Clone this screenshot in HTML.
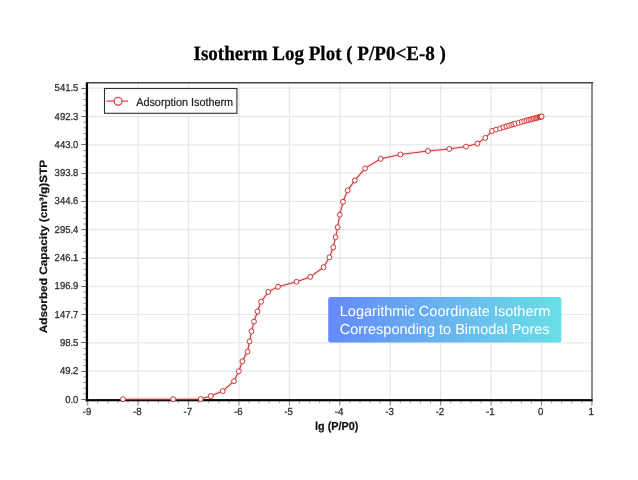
<!DOCTYPE html>
<html><head><meta charset="utf-8"><title>Isotherm Log Plot</title>
<style>html,body{margin:0;padding:0;background:#fff;}body{width:638px;height:480px;overflow:hidden;font-family:"Liberation Sans",sans-serif;}svg{display:block;}text{text-rendering:geometricPrecision;}#w{will-change:transform;opacity:0.999;}</style>
</head><body><div id="w">
<svg width="638" height="480" viewBox="0 0 638 480">
<defs><linearGradient id="g" x1="0" y1="0" x2="1" y2="0"><stop offset="0" stop-color="#658af9"/><stop offset="1" stop-color="#6adfe6"/></linearGradient></defs>
<rect width="638" height="480" fill="#fff"/>
<line x1="138.12" y1="83" x2="138.12" y2="399" stroke="#e9e9e9" stroke-width="1.3"/>
<line x1="188.54" y1="83" x2="188.54" y2="399" stroke="#e9e9e9" stroke-width="1.3"/>
<line x1="238.96" y1="83" x2="238.96" y2="399" stroke="#e9e9e9" stroke-width="1.3"/>
<line x1="289.38" y1="83" x2="289.38" y2="399" stroke="#e9e9e9" stroke-width="1.3"/>
<line x1="339.80" y1="83" x2="339.80" y2="399" stroke="#e9e9e9" stroke-width="1.3"/>
<line x1="390.22" y1="83" x2="390.22" y2="399" stroke="#e9e9e9" stroke-width="1.3"/>
<line x1="440.64" y1="83" x2="440.64" y2="399" stroke="#e9e9e9" stroke-width="1.3"/>
<line x1="491.06" y1="83" x2="491.06" y2="399" stroke="#e9e9e9" stroke-width="1.3"/>
<line x1="541.48" y1="83" x2="541.48" y2="399" stroke="#e9e9e9" stroke-width="1.3"/>
<line x1="88" y1="371.20" x2="592" y2="371.20" stroke="#e9e9e9" stroke-width="1.3"/>
<line x1="88" y1="342.90" x2="592" y2="342.90" stroke="#e9e9e9" stroke-width="1.3"/>
<line x1="88" y1="314.60" x2="592" y2="314.60" stroke="#e9e9e9" stroke-width="1.3"/>
<line x1="88" y1="286.30" x2="592" y2="286.30" stroke="#e9e9e9" stroke-width="1.3"/>
<line x1="88" y1="258.00" x2="592" y2="258.00" stroke="#e9e9e9" stroke-width="1.3"/>
<line x1="88" y1="229.70" x2="592" y2="229.70" stroke="#e9e9e9" stroke-width="1.3"/>
<line x1="88" y1="201.40" x2="592" y2="201.40" stroke="#e9e9e9" stroke-width="1.3"/>
<line x1="88" y1="173.10" x2="592" y2="173.10" stroke="#e9e9e9" stroke-width="1.3"/>
<line x1="88" y1="144.80" x2="592" y2="144.80" stroke="#e9e9e9" stroke-width="1.3"/>
<line x1="88" y1="116.50" x2="592" y2="116.50" stroke="#e9e9e9" stroke-width="1.3"/>
<line x1="88" y1="88.20" x2="592" y2="88.20" stroke="#e9e9e9" stroke-width="1.3"/>
<line x1="81.2" y1="399.50" x2="86" y2="399.50" stroke="#6a6a6a" stroke-width="1"/>
<line x1="83.5" y1="393.84" x2="86" y2="393.84" stroke="#888" stroke-width="0.9"/>
<line x1="83.5" y1="388.18" x2="86" y2="388.18" stroke="#888" stroke-width="0.9"/>
<line x1="83.5" y1="382.52" x2="86" y2="382.52" stroke="#888" stroke-width="0.9"/>
<line x1="83.5" y1="376.86" x2="86" y2="376.86" stroke="#888" stroke-width="0.9"/>
<line x1="81.2" y1="371.50" x2="86" y2="371.50" stroke="#6a6a6a" stroke-width="1"/>
<line x1="83.5" y1="365.54" x2="86" y2="365.54" stroke="#888" stroke-width="0.9"/>
<line x1="83.5" y1="359.88" x2="86" y2="359.88" stroke="#888" stroke-width="0.9"/>
<line x1="83.5" y1="354.22" x2="86" y2="354.22" stroke="#888" stroke-width="0.9"/>
<line x1="83.5" y1="348.56" x2="86" y2="348.56" stroke="#888" stroke-width="0.9"/>
<line x1="81.2" y1="342.50" x2="86" y2="342.50" stroke="#6a6a6a" stroke-width="1"/>
<line x1="83.5" y1="337.24" x2="86" y2="337.24" stroke="#888" stroke-width="0.9"/>
<line x1="83.5" y1="331.58" x2="86" y2="331.58" stroke="#888" stroke-width="0.9"/>
<line x1="83.5" y1="325.92" x2="86" y2="325.92" stroke="#888" stroke-width="0.9"/>
<line x1="83.5" y1="320.26" x2="86" y2="320.26" stroke="#888" stroke-width="0.9"/>
<line x1="81.2" y1="314.50" x2="86" y2="314.50" stroke="#6a6a6a" stroke-width="1"/>
<line x1="83.5" y1="308.94" x2="86" y2="308.94" stroke="#888" stroke-width="0.9"/>
<line x1="83.5" y1="303.28" x2="86" y2="303.28" stroke="#888" stroke-width="0.9"/>
<line x1="83.5" y1="297.62" x2="86" y2="297.62" stroke="#888" stroke-width="0.9"/>
<line x1="83.5" y1="291.96" x2="86" y2="291.96" stroke="#888" stroke-width="0.9"/>
<line x1="81.2" y1="286.50" x2="86" y2="286.50" stroke="#6a6a6a" stroke-width="1"/>
<line x1="83.5" y1="280.64" x2="86" y2="280.64" stroke="#888" stroke-width="0.9"/>
<line x1="83.5" y1="274.98" x2="86" y2="274.98" stroke="#888" stroke-width="0.9"/>
<line x1="83.5" y1="269.32" x2="86" y2="269.32" stroke="#888" stroke-width="0.9"/>
<line x1="83.5" y1="263.66" x2="86" y2="263.66" stroke="#888" stroke-width="0.9"/>
<line x1="81.2" y1="258.50" x2="86" y2="258.50" stroke="#6a6a6a" stroke-width="1"/>
<line x1="83.5" y1="252.34" x2="86" y2="252.34" stroke="#888" stroke-width="0.9"/>
<line x1="83.5" y1="246.68" x2="86" y2="246.68" stroke="#888" stroke-width="0.9"/>
<line x1="83.5" y1="241.02" x2="86" y2="241.02" stroke="#888" stroke-width="0.9"/>
<line x1="83.5" y1="235.36" x2="86" y2="235.36" stroke="#888" stroke-width="0.9"/>
<line x1="81.2" y1="229.50" x2="86" y2="229.50" stroke="#6a6a6a" stroke-width="1"/>
<line x1="83.5" y1="224.04" x2="86" y2="224.04" stroke="#888" stroke-width="0.9"/>
<line x1="83.5" y1="218.38" x2="86" y2="218.38" stroke="#888" stroke-width="0.9"/>
<line x1="83.5" y1="212.72" x2="86" y2="212.72" stroke="#888" stroke-width="0.9"/>
<line x1="83.5" y1="207.06" x2="86" y2="207.06" stroke="#888" stroke-width="0.9"/>
<line x1="81.2" y1="201.50" x2="86" y2="201.50" stroke="#6a6a6a" stroke-width="1"/>
<line x1="83.5" y1="195.74" x2="86" y2="195.74" stroke="#888" stroke-width="0.9"/>
<line x1="83.5" y1="190.08" x2="86" y2="190.08" stroke="#888" stroke-width="0.9"/>
<line x1="83.5" y1="184.42" x2="86" y2="184.42" stroke="#888" stroke-width="0.9"/>
<line x1="83.5" y1="178.76" x2="86" y2="178.76" stroke="#888" stroke-width="0.9"/>
<line x1="81.2" y1="173.50" x2="86" y2="173.50" stroke="#6a6a6a" stroke-width="1"/>
<line x1="83.5" y1="167.44" x2="86" y2="167.44" stroke="#888" stroke-width="0.9"/>
<line x1="83.5" y1="161.78" x2="86" y2="161.78" stroke="#888" stroke-width="0.9"/>
<line x1="83.5" y1="156.12" x2="86" y2="156.12" stroke="#888" stroke-width="0.9"/>
<line x1="83.5" y1="150.46" x2="86" y2="150.46" stroke="#888" stroke-width="0.9"/>
<line x1="81.2" y1="144.50" x2="86" y2="144.50" stroke="#6a6a6a" stroke-width="1"/>
<line x1="83.5" y1="139.14" x2="86" y2="139.14" stroke="#888" stroke-width="0.9"/>
<line x1="83.5" y1="133.48" x2="86" y2="133.48" stroke="#888" stroke-width="0.9"/>
<line x1="83.5" y1="127.82" x2="86" y2="127.82" stroke="#888" stroke-width="0.9"/>
<line x1="83.5" y1="122.16" x2="86" y2="122.16" stroke="#888" stroke-width="0.9"/>
<line x1="81.2" y1="116.50" x2="86" y2="116.50" stroke="#6a6a6a" stroke-width="1"/>
<line x1="83.5" y1="110.84" x2="86" y2="110.84" stroke="#888" stroke-width="0.9"/>
<line x1="83.5" y1="105.18" x2="86" y2="105.18" stroke="#888" stroke-width="0.9"/>
<line x1="83.5" y1="99.52" x2="86" y2="99.52" stroke="#888" stroke-width="0.9"/>
<line x1="83.5" y1="93.86" x2="86" y2="93.86" stroke="#888" stroke-width="0.9"/>
<line x1="81.2" y1="88.50" x2="86" y2="88.50" stroke="#6a6a6a" stroke-width="1"/>
<line x1="87.70" y1="401" x2="87.70" y2="405.7" stroke="#888" stroke-width="1.1"/>
<line x1="97.78" y1="401" x2="97.78" y2="403.4" stroke="#aaa" stroke-width="1"/>
<line x1="107.87" y1="401" x2="107.87" y2="403.4" stroke="#aaa" stroke-width="1"/>
<line x1="117.95" y1="401" x2="117.95" y2="403.4" stroke="#aaa" stroke-width="1"/>
<line x1="128.04" y1="401" x2="128.04" y2="403.4" stroke="#aaa" stroke-width="1"/>
<line x1="138.12" y1="401" x2="138.12" y2="405.7" stroke="#888" stroke-width="1.1"/>
<line x1="148.20" y1="401" x2="148.20" y2="403.4" stroke="#aaa" stroke-width="1"/>
<line x1="158.29" y1="401" x2="158.29" y2="403.4" stroke="#aaa" stroke-width="1"/>
<line x1="168.37" y1="401" x2="168.37" y2="403.4" stroke="#aaa" stroke-width="1"/>
<line x1="178.46" y1="401" x2="178.46" y2="403.4" stroke="#aaa" stroke-width="1"/>
<line x1="188.54" y1="401" x2="188.54" y2="405.7" stroke="#888" stroke-width="1.1"/>
<line x1="198.62" y1="401" x2="198.62" y2="403.4" stroke="#aaa" stroke-width="1"/>
<line x1="208.71" y1="401" x2="208.71" y2="403.4" stroke="#aaa" stroke-width="1"/>
<line x1="218.79" y1="401" x2="218.79" y2="403.4" stroke="#aaa" stroke-width="1"/>
<line x1="228.88" y1="401" x2="228.88" y2="403.4" stroke="#aaa" stroke-width="1"/>
<line x1="238.96" y1="401" x2="238.96" y2="405.7" stroke="#888" stroke-width="1.1"/>
<line x1="249.04" y1="401" x2="249.04" y2="403.4" stroke="#aaa" stroke-width="1"/>
<line x1="259.13" y1="401" x2="259.13" y2="403.4" stroke="#aaa" stroke-width="1"/>
<line x1="269.21" y1="401" x2="269.21" y2="403.4" stroke="#aaa" stroke-width="1"/>
<line x1="279.30" y1="401" x2="279.30" y2="403.4" stroke="#aaa" stroke-width="1"/>
<line x1="289.38" y1="401" x2="289.38" y2="405.7" stroke="#888" stroke-width="1.1"/>
<line x1="299.46" y1="401" x2="299.46" y2="403.4" stroke="#aaa" stroke-width="1"/>
<line x1="309.55" y1="401" x2="309.55" y2="403.4" stroke="#aaa" stroke-width="1"/>
<line x1="319.63" y1="401" x2="319.63" y2="403.4" stroke="#aaa" stroke-width="1"/>
<line x1="329.72" y1="401" x2="329.72" y2="403.4" stroke="#aaa" stroke-width="1"/>
<line x1="339.80" y1="401" x2="339.80" y2="405.7" stroke="#888" stroke-width="1.1"/>
<line x1="349.88" y1="401" x2="349.88" y2="403.4" stroke="#aaa" stroke-width="1"/>
<line x1="359.97" y1="401" x2="359.97" y2="403.4" stroke="#aaa" stroke-width="1"/>
<line x1="370.05" y1="401" x2="370.05" y2="403.4" stroke="#aaa" stroke-width="1"/>
<line x1="380.14" y1="401" x2="380.14" y2="403.4" stroke="#aaa" stroke-width="1"/>
<line x1="390.22" y1="401" x2="390.22" y2="405.7" stroke="#888" stroke-width="1.1"/>
<line x1="400.30" y1="401" x2="400.30" y2="403.4" stroke="#aaa" stroke-width="1"/>
<line x1="410.39" y1="401" x2="410.39" y2="403.4" stroke="#aaa" stroke-width="1"/>
<line x1="420.47" y1="401" x2="420.47" y2="403.4" stroke="#aaa" stroke-width="1"/>
<line x1="430.56" y1="401" x2="430.56" y2="403.4" stroke="#aaa" stroke-width="1"/>
<line x1="440.64" y1="401" x2="440.64" y2="405.7" stroke="#888" stroke-width="1.1"/>
<line x1="450.72" y1="401" x2="450.72" y2="403.4" stroke="#aaa" stroke-width="1"/>
<line x1="460.81" y1="401" x2="460.81" y2="403.4" stroke="#aaa" stroke-width="1"/>
<line x1="470.89" y1="401" x2="470.89" y2="403.4" stroke="#aaa" stroke-width="1"/>
<line x1="480.98" y1="401" x2="480.98" y2="403.4" stroke="#aaa" stroke-width="1"/>
<line x1="491.06" y1="401" x2="491.06" y2="405.7" stroke="#888" stroke-width="1.1"/>
<line x1="501.14" y1="401" x2="501.14" y2="403.4" stroke="#aaa" stroke-width="1"/>
<line x1="511.23" y1="401" x2="511.23" y2="403.4" stroke="#aaa" stroke-width="1"/>
<line x1="521.31" y1="401" x2="521.31" y2="403.4" stroke="#aaa" stroke-width="1"/>
<line x1="531.40" y1="401" x2="531.40" y2="403.4" stroke="#aaa" stroke-width="1"/>
<line x1="541.48" y1="401" x2="541.48" y2="405.7" stroke="#888" stroke-width="1.1"/>
<line x1="551.56" y1="401" x2="551.56" y2="403.4" stroke="#aaa" stroke-width="1"/>
<line x1="561.65" y1="401" x2="561.65" y2="403.4" stroke="#aaa" stroke-width="1"/>
<line x1="571.73" y1="401" x2="571.73" y2="403.4" stroke="#aaa" stroke-width="1"/>
<line x1="581.82" y1="401" x2="581.82" y2="403.4" stroke="#aaa" stroke-width="1"/>
<line x1="591.90" y1="401" x2="591.90" y2="405.7" stroke="#888" stroke-width="1.1"/>
<line x1="86.6" y1="82.7" x2="592.6" y2="82.7" stroke="#444" stroke-width="1.6" stroke-linecap="round"/>
<line x1="592" y1="83" x2="592" y2="401" stroke="#666" stroke-width="1.5"/>
<rect x="85.8" y="82.9" width="2.25" height="318.4" fill="#000"/>
<rect x="85.7" y="399.1" width="506.8" height="2.2" fill="#000"/>
<path d="M123.00,399.15 L173.20,399.15 L200.70,399.00 L210.80,396.10 L222.70,391.10 L234.00,381.10 L238.80,371.30 L242.40,361.30 L247.50,351.60 L249.60,341.40 L251.50,331.30 L254.00,321.60 L257.50,311.50 L261.10,301.70 L268.30,291.90 L278.00,286.80 L296.50,281.80 L310.20,276.90 L323.60,267.20 L329.40,257.30 L333.30,247.30 L335.60,237.20 L337.60,227.30 L339.80,214.70 L343.00,201.80 L347.60,190.40 L354.80,180.40 L365.10,168.40 L380.70,158.80 L400.40,154.50 L427.90,151.00 L449.30,148.90 L466.00,146.60 L477.40,143.60 L485.30,137.90 L492.00,131.00 L496.07,129.68 L500.06,128.39 L503.43,127.32 L506.36,126.40 L508.94,125.60 L511.24,124.90 L513.33,124.27 L515.24,123.71 L518.61,122.73 L521.54,121.90 L524.11,121.18 L526.42,120.56 L528.51,120.00 L530.41,119.49 L532.17,119.03 L533.79,118.61 L535.30,118.22 L536.71,117.85 L538.04,117.51 L539.29,117.19 L539.89,117.04 L540.48,116.89 L541.05,116.74 L541.38,116.66 L541.60,116.60" fill="none" stroke="#e85050" stroke-opacity="0.13" stroke-width="3.6" stroke-linejoin="round"/>
<path d="M123.00,399.15 L173.20,399.15 L200.70,399.00 L210.80,396.10 L222.70,391.10 L234.00,381.10 L238.80,371.30 L242.40,361.30 L247.50,351.60 L249.60,341.40 L251.50,331.30 L254.00,321.60 L257.50,311.50 L261.10,301.70 L268.30,291.90 L278.00,286.80 L296.50,281.80 L310.20,276.90 L323.60,267.20 L329.40,257.30 L333.30,247.30 L335.60,237.20 L337.60,227.30 L339.80,214.70 L343.00,201.80 L347.60,190.40 L354.80,180.40 L365.10,168.40 L380.70,158.80 L400.40,154.50 L427.90,151.00 L449.30,148.90 L466.00,146.60 L477.40,143.60 L485.30,137.90 L492.00,131.00 L496.07,129.68 L500.06,128.39 L503.43,127.32 L506.36,126.40 L508.94,125.60 L511.24,124.90 L513.33,124.27 L515.24,123.71 L518.61,122.73 L521.54,121.90 L524.11,121.18 L526.42,120.56 L528.51,120.00 L530.41,119.49 L532.17,119.03 L533.79,118.61 L535.30,118.22 L536.71,117.85 L538.04,117.51 L539.29,117.19 L539.89,117.04 L540.48,116.89 L541.05,116.74 L541.38,116.66 L541.60,116.60" fill="none" stroke="#c93636" stroke-width="1.05" stroke-linejoin="round"/>
<ellipse cx="123.00" cy="399.15" rx="2.4" ry="2.5" fill="#fff" stroke="#c93636" stroke-width="1.0"/>
<ellipse cx="173.20" cy="399.15" rx="2.4" ry="2.5" fill="#fff" stroke="#c93636" stroke-width="1.0"/>
<ellipse cx="200.70" cy="399.00" rx="2.4" ry="2.5" fill="#fff" stroke="#c93636" stroke-width="1.0"/>
<ellipse cx="210.80" cy="396.10" rx="2.4" ry="2.5" fill="#fff" stroke="#c93636" stroke-width="1.0"/>
<ellipse cx="222.70" cy="391.10" rx="2.4" ry="2.5" fill="#fff" stroke="#c93636" stroke-width="1.0"/>
<ellipse cx="234.00" cy="381.10" rx="2.4" ry="2.5" fill="#fff" stroke="#c93636" stroke-width="1.0"/>
<ellipse cx="238.80" cy="371.30" rx="2.4" ry="2.5" fill="#fff" stroke="#c93636" stroke-width="1.0"/>
<ellipse cx="242.40" cy="361.30" rx="2.4" ry="2.5" fill="#fff" stroke="#c93636" stroke-width="1.0"/>
<ellipse cx="247.50" cy="351.60" rx="2.4" ry="2.5" fill="#fff" stroke="#c93636" stroke-width="1.0"/>
<ellipse cx="249.60" cy="341.40" rx="2.4" ry="2.5" fill="#fff" stroke="#c93636" stroke-width="1.0"/>
<ellipse cx="251.50" cy="331.30" rx="2.4" ry="2.5" fill="#fff" stroke="#c93636" stroke-width="1.0"/>
<ellipse cx="254.00" cy="321.60" rx="2.4" ry="2.5" fill="#fff" stroke="#c93636" stroke-width="1.0"/>
<ellipse cx="257.50" cy="311.50" rx="2.4" ry="2.5" fill="#fff" stroke="#c93636" stroke-width="1.0"/>
<ellipse cx="261.10" cy="301.70" rx="2.4" ry="2.5" fill="#fff" stroke="#c93636" stroke-width="1.0"/>
<ellipse cx="268.30" cy="291.90" rx="2.4" ry="2.5" fill="#fff" stroke="#c93636" stroke-width="1.0"/>
<ellipse cx="278.00" cy="286.80" rx="2.4" ry="2.5" fill="#fff" stroke="#c93636" stroke-width="1.0"/>
<ellipse cx="296.50" cy="281.80" rx="2.4" ry="2.5" fill="#fff" stroke="#c93636" stroke-width="1.0"/>
<ellipse cx="310.20" cy="276.90" rx="2.4" ry="2.5" fill="#fff" stroke="#c93636" stroke-width="1.0"/>
<ellipse cx="323.60" cy="267.20" rx="2.4" ry="2.5" fill="#fff" stroke="#c93636" stroke-width="1.0"/>
<ellipse cx="329.40" cy="257.30" rx="2.4" ry="2.5" fill="#fff" stroke="#c93636" stroke-width="1.0"/>
<ellipse cx="333.30" cy="247.30" rx="2.4" ry="2.5" fill="#fff" stroke="#c93636" stroke-width="1.0"/>
<ellipse cx="335.60" cy="237.20" rx="2.4" ry="2.5" fill="#fff" stroke="#c93636" stroke-width="1.0"/>
<ellipse cx="337.60" cy="227.30" rx="2.4" ry="2.5" fill="#fff" stroke="#c93636" stroke-width="1.0"/>
<ellipse cx="339.80" cy="214.70" rx="2.4" ry="2.5" fill="#fff" stroke="#c93636" stroke-width="1.0"/>
<ellipse cx="343.00" cy="201.80" rx="2.4" ry="2.5" fill="#fff" stroke="#c93636" stroke-width="1.0"/>
<ellipse cx="347.60" cy="190.40" rx="2.4" ry="2.5" fill="#fff" stroke="#c93636" stroke-width="1.0"/>
<ellipse cx="354.80" cy="180.40" rx="2.4" ry="2.5" fill="#fff" stroke="#c93636" stroke-width="1.0"/>
<ellipse cx="365.10" cy="168.40" rx="2.4" ry="2.5" fill="#fff" stroke="#c93636" stroke-width="1.0"/>
<ellipse cx="380.70" cy="158.80" rx="2.4" ry="2.5" fill="#fff" stroke="#c93636" stroke-width="1.0"/>
<ellipse cx="400.40" cy="154.50" rx="2.4" ry="2.5" fill="#fff" stroke="#c93636" stroke-width="1.0"/>
<ellipse cx="427.90" cy="151.00" rx="2.4" ry="2.5" fill="#fff" stroke="#c93636" stroke-width="1.0"/>
<ellipse cx="449.30" cy="148.90" rx="2.4" ry="2.5" fill="#fff" stroke="#c93636" stroke-width="1.0"/>
<ellipse cx="466.00" cy="146.60" rx="2.4" ry="2.5" fill="#fff" stroke="#c93636" stroke-width="1.0"/>
<ellipse cx="477.40" cy="143.60" rx="2.4" ry="2.5" fill="#fff" stroke="#c93636" stroke-width="1.0"/>
<ellipse cx="485.30" cy="137.90" rx="2.4" ry="2.5" fill="#fff" stroke="#c93636" stroke-width="1.0"/>
<ellipse cx="492.00" cy="131.00" rx="2.4" ry="2.5" fill="#fff" stroke="#c93636" stroke-width="1.0"/>
<ellipse cx="496.07" cy="129.68" rx="2.4" ry="2.5" fill="#fff" stroke="#c93636" stroke-width="1.0"/>
<ellipse cx="500.06" cy="128.39" rx="2.4" ry="2.5" fill="#fff" stroke="#dc3232" stroke-width="1.0"/>
<ellipse cx="503.43" cy="127.32" rx="2.4" ry="2.5" fill="#fff" stroke="#dc3232" stroke-width="1.0"/>
<ellipse cx="506.36" cy="126.40" rx="2.4" ry="2.5" fill="#fff" stroke="#dc3232" stroke-width="1.0"/>
<ellipse cx="508.94" cy="125.60" rx="2.4" ry="2.5" fill="#fff" stroke="#dc3232" stroke-width="1.0"/>
<ellipse cx="511.24" cy="124.90" rx="2.4" ry="2.5" fill="#fff" stroke="#dc3232" stroke-width="1.0"/>
<ellipse cx="513.33" cy="124.27" rx="2.4" ry="2.5" fill="#fff" stroke="#dc3232" stroke-width="1.0"/>
<ellipse cx="515.24" cy="123.71" rx="2.4" ry="2.5" fill="#fff" stroke="#dc3232" stroke-width="1.0"/>
<ellipse cx="518.61" cy="122.73" rx="2.4" ry="2.5" fill="#fff" stroke="#dc3232" stroke-width="1.0"/>
<ellipse cx="521.54" cy="121.90" rx="2.4" ry="2.5" fill="#fff" stroke="#dc3232" stroke-width="1.0"/>
<ellipse cx="524.11" cy="121.18" rx="2.4" ry="2.5" fill="#fff" stroke="#dc3232" stroke-width="1.0"/>
<ellipse cx="526.42" cy="120.56" rx="2.4" ry="2.5" fill="#fff" stroke="#dc3232" stroke-width="1.0"/>
<ellipse cx="528.51" cy="120.00" rx="2.4" ry="2.5" fill="#fff" stroke="#dc3232" stroke-width="1.0"/>
<ellipse cx="530.41" cy="119.49" rx="2.4" ry="2.5" fill="#fff" stroke="#dc3232" stroke-width="1.0"/>
<ellipse cx="532.17" cy="119.03" rx="2.4" ry="2.5" fill="#fff" stroke="#dc3232" stroke-width="1.0"/>
<ellipse cx="533.79" cy="118.61" rx="2.4" ry="2.5" fill="#fff" stroke="#dc3232" stroke-width="1.0"/>
<ellipse cx="535.30" cy="118.22" rx="2.4" ry="2.5" fill="#fff" stroke="#dc3232" stroke-width="1.0"/>
<ellipse cx="536.71" cy="117.85" rx="2.4" ry="2.5" fill="#fff" stroke="#dc3232" stroke-width="1.0"/>
<ellipse cx="538.04" cy="117.51" rx="2.4" ry="2.5" fill="#fff" stroke="#dc3232" stroke-width="1.0"/>
<ellipse cx="539.29" cy="117.19" rx="2.4" ry="2.5" fill="#fff" stroke="#dc3232" stroke-width="1.0"/>
<ellipse cx="539.89" cy="117.04" rx="2.4" ry="2.5" fill="#fff" stroke="#dc3232" stroke-width="1.0"/>
<ellipse cx="540.48" cy="116.89" rx="2.4" ry="2.5" fill="#fff" stroke="#dc3232" stroke-width="1.0"/>
<ellipse cx="541.05" cy="116.74" rx="2.4" ry="2.5" fill="#fff" stroke="#dc3232" stroke-width="1.0"/>
<ellipse cx="541.38" cy="116.66" rx="2.4" ry="2.5" fill="#fff" stroke="#dc3232" stroke-width="1.0"/>
<ellipse cx="541.60" cy="116.60" rx="2.4" ry="2.5" fill="#fff" stroke="#dc3232" stroke-width="1.0"/>
<rect x="104.5" y="88.5" width="132.4" height="24.8" fill="#fff" stroke="#2f2f2f" stroke-width="1.1"/>
<line x1="106.2" y1="101.1" x2="128" y2="101.1" stroke="#dc444e" stroke-width="1.25"/>
<circle cx="118.1" cy="101.3" r="3.95" fill="#fff" stroke="#dc444e" stroke-width="1.3"/>
<text transform="translate(136.2,105.7) scale(1,1.07)" font-family="'Liberation Sans', sans-serif" font-size="10.84" font-weight="normal" text-anchor="start" fill="#222" stroke="#222" stroke-width="0.2">Adsorption Isotherm</text>
<text transform="translate(78.4,402.5) scale(1,1.06)" font-family="'Liberation Sans', sans-serif" font-size="9.5" font-weight="normal" text-anchor="end" fill="#2e2e2e" stroke="#2e2e2e" stroke-width="0.25">0.0</text>
<text transform="translate(78.4,374.2) scale(1,1.06)" font-family="'Liberation Sans', sans-serif" font-size="9.5" font-weight="normal" text-anchor="end" fill="#2e2e2e" stroke="#2e2e2e" stroke-width="0.25">49.2</text>
<text transform="translate(78.4,345.9) scale(1,1.06)" font-family="'Liberation Sans', sans-serif" font-size="9.5" font-weight="normal" text-anchor="end" fill="#2e2e2e" stroke="#2e2e2e" stroke-width="0.25">98.5</text>
<text transform="translate(78.4,317.6) scale(1,1.06)" font-family="'Liberation Sans', sans-serif" font-size="9.5" font-weight="normal" text-anchor="end" fill="#2e2e2e" stroke="#2e2e2e" stroke-width="0.25">147.7</text>
<text transform="translate(78.4,289.3) scale(1,1.06)" font-family="'Liberation Sans', sans-serif" font-size="9.5" font-weight="normal" text-anchor="end" fill="#2e2e2e" stroke="#2e2e2e" stroke-width="0.25">196.9</text>
<text transform="translate(78.4,261.0) scale(1,1.06)" font-family="'Liberation Sans', sans-serif" font-size="9.5" font-weight="normal" text-anchor="end" fill="#2e2e2e" stroke="#2e2e2e" stroke-width="0.25">246.1</text>
<text transform="translate(78.4,232.7) scale(1,1.06)" font-family="'Liberation Sans', sans-serif" font-size="9.5" font-weight="normal" text-anchor="end" fill="#2e2e2e" stroke="#2e2e2e" stroke-width="0.25">295.4</text>
<text transform="translate(78.4,204.4) scale(1,1.06)" font-family="'Liberation Sans', sans-serif" font-size="9.5" font-weight="normal" text-anchor="end" fill="#2e2e2e" stroke="#2e2e2e" stroke-width="0.25">344.6</text>
<text transform="translate(78.4,176.1) scale(1,1.06)" font-family="'Liberation Sans', sans-serif" font-size="9.5" font-weight="normal" text-anchor="end" fill="#2e2e2e" stroke="#2e2e2e" stroke-width="0.25">393.8</text>
<text transform="translate(78.4,147.79999999999998) scale(1,1.06)" font-family="'Liberation Sans', sans-serif" font-size="9.5" font-weight="normal" text-anchor="end" fill="#2e2e2e" stroke="#2e2e2e" stroke-width="0.25">443.0</text>
<text transform="translate(78.4,119.5) scale(1,1.06)" font-family="'Liberation Sans', sans-serif" font-size="9.5" font-weight="normal" text-anchor="end" fill="#2e2e2e" stroke="#2e2e2e" stroke-width="0.25">492.3</text>
<text transform="translate(78.4,91.19999999999999) scale(1,1.06)" font-family="'Liberation Sans', sans-serif" font-size="9.5" font-weight="normal" text-anchor="end" fill="#2e2e2e" stroke="#2e2e2e" stroke-width="0.25">541.5</text>
<text transform="translate(87.0,415.1) scale(1,1.06)" font-family="'Liberation Sans', sans-serif" font-size="9.7" font-weight="normal" text-anchor="middle" fill="#2e2e2e" stroke="#2e2e2e" stroke-width="0.25">-9</text>
<text transform="translate(137.42000000000002,415.1) scale(1,1.06)" font-family="'Liberation Sans', sans-serif" font-size="9.7" font-weight="normal" text-anchor="middle" fill="#2e2e2e" stroke="#2e2e2e" stroke-width="0.25">-8</text>
<text transform="translate(187.84000000000003,415.1) scale(1,1.06)" font-family="'Liberation Sans', sans-serif" font-size="9.7" font-weight="normal" text-anchor="middle" fill="#2e2e2e" stroke="#2e2e2e" stroke-width="0.25">-7</text>
<text transform="translate(238.26,415.1) scale(1,1.06)" font-family="'Liberation Sans', sans-serif" font-size="9.7" font-weight="normal" text-anchor="middle" fill="#2e2e2e" stroke="#2e2e2e" stroke-width="0.25">-6</text>
<text transform="translate(288.68,415.1) scale(1,1.06)" font-family="'Liberation Sans', sans-serif" font-size="9.7" font-weight="normal" text-anchor="middle" fill="#2e2e2e" stroke="#2e2e2e" stroke-width="0.25">-5</text>
<text transform="translate(339.1,415.1) scale(1,1.06)" font-family="'Liberation Sans', sans-serif" font-size="9.7" font-weight="normal" text-anchor="middle" fill="#2e2e2e" stroke="#2e2e2e" stroke-width="0.25">-4</text>
<text transform="translate(389.52,415.1) scale(1,1.06)" font-family="'Liberation Sans', sans-serif" font-size="9.7" font-weight="normal" text-anchor="middle" fill="#2e2e2e" stroke="#2e2e2e" stroke-width="0.25">-3</text>
<text transform="translate(439.94,415.1) scale(1,1.06)" font-family="'Liberation Sans', sans-serif" font-size="9.7" font-weight="normal" text-anchor="middle" fill="#2e2e2e" stroke="#2e2e2e" stroke-width="0.25">-2</text>
<text transform="translate(490.36,415.1) scale(1,1.06)" font-family="'Liberation Sans', sans-serif" font-size="9.7" font-weight="normal" text-anchor="middle" fill="#2e2e2e" stroke="#2e2e2e" stroke-width="0.25">-1</text>
<text transform="translate(540.78,415.1) scale(1,1.06)" font-family="'Liberation Sans', sans-serif" font-size="9.7" font-weight="normal" text-anchor="middle" fill="#2e2e2e" stroke="#2e2e2e" stroke-width="0.25">0</text>
<text transform="translate(591.2,415.1) scale(1,1.06)" font-family="'Liberation Sans', sans-serif" font-size="9.7" font-weight="normal" text-anchor="middle" fill="#2e2e2e" stroke="#2e2e2e" stroke-width="0.25">1</text>
<text transform="translate(315.0,430.3) scale(1,1.07)" font-family="'Liberation Sans', sans-serif" font-size="10.85" font-weight="bold" text-anchor="start" fill="#111" stroke="#111" stroke-width="0.2">lg (P/P0)</text>
<text transform="translate(47.3,333.3) rotate(-90) scale(1.107,1)" font-family="'Liberation Sans', sans-serif" font-size="10.7" font-weight="bold" fill="#111" stroke="#111" stroke-width="0.2">Adsorbed Capacity (cm³/g)STP</text>
<text transform="translate(193.5,59.5) scale(1,1.07)" font-family="'Liberation Serif', sans-serif" font-size="19.05" font-weight="bold" text-anchor="start" fill="#000" stroke="#000" stroke-width="0.25">Isotherm Log Plot ( P/P0&lt;E-8 )</text>
<rect x="328.2" y="297.1" width="233.2" height="45.5" rx="2.5" fill="url(#g)"/>
<text transform="translate(339.8,315.7) scale(1,1)" font-family="'Liberation Sans', sans-serif" font-size="14.52" font-weight="normal" text-anchor="start" fill="#fff" >Logarithmic Coordinate Isotherm</text>
<text transform="translate(339.8,333.9) scale(1,1)" font-family="'Liberation Sans', sans-serif" font-size="14.52" font-weight="normal" text-anchor="start" fill="#fff" >Corresponding to Bimodal Pores</text>
</svg>
</div></body></html>
